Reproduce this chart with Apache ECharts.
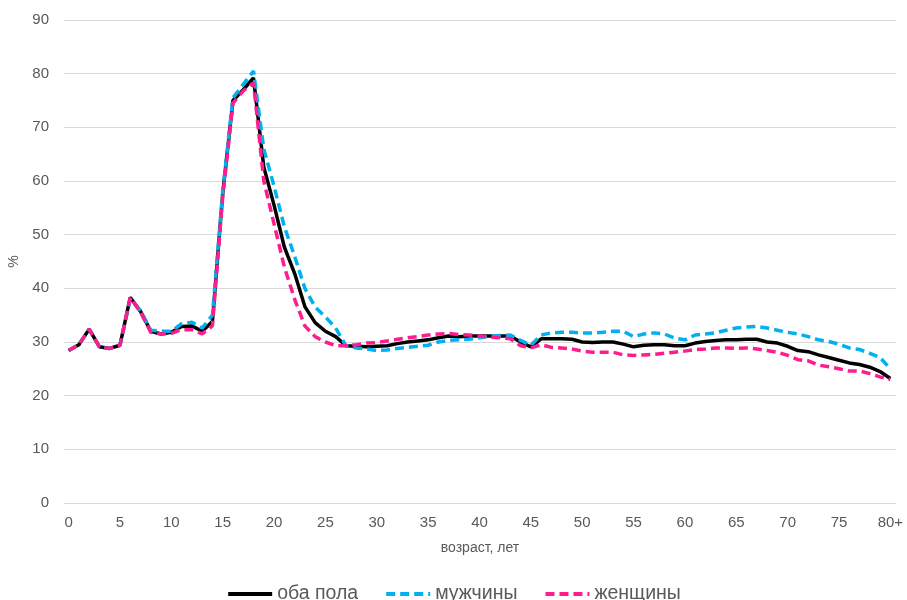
<!DOCTYPE html>
<html>
<head>
<meta charset="utf-8">
<script src="https://cdn.jsdelivr.net/npm/echarts@6/dist/echarts.min.js"></script>
<style>
  html, body { margin: 0; padding: 0; background: #fff; }
  #chart { width: 907px; height: 600px; }
</style>
</head>
<body>
<div id="chart"></div>
<script>
// возраст 0..80 (80 = "80+")
var ages = [];
for (var i = 0; i <= 80; i++) ages.push(i);
var xTicks = [0, 5, 10, 15, 20, 25, 30, 35, 40, 45, 50, 55, 60, 65, 70, 75, 80];

var both = [28.4, 29.5, 32.4, 29.1, 28.8, 29.4, 38.3, 35.7, 32.0, 31.5,
	31.8, 32.9, 33.0, 32.0, 33.8, 57.6, 75.0, 77.0, 79.2, 62.6,
	55.5, 47.7, 42.8, 36.6, 33.6, 32.0, 31.0, 29.3, 29.2, 29.1,
	29.2, 29.3, 29.7, 30.0, 30.2, 30.4, 30.8, 31.1, 31.0, 31.1,
	31.1, 31.1, 31.1, 31.1, 30.0, 29.1, 30.6, 30.6, 30.6, 30.5,
	30.0, 29.9, 30.0, 30.0, 29.6, 29.1, 29.4, 29.5, 29.5, 29.3,
	29.3, 29.8, 30.1, 30.3, 30.4, 30.4, 30.5, 30.5, 30.0, 29.8,
	29.2, 28.4, 28.2, 27.6, 27.1, 26.6, 26.1, 25.8, 25.3, 24.5,
	23.2];
var men = [28.4, 29.5, 32.4, 29.1, 28.8, 29.4, 38.0, 35.9, 32.2, 32.0,
	32.0, 33.4, 33.7, 32.6, 35.0, 58.0, 75.5, 78.0, 80.5, 66.0,
	59.0, 51.5, 46.0, 40.0, 36.5, 34.7, 32.6, 29.3, 28.9, 28.7,
	28.4, 28.5, 28.8, 29.0, 29.2, 29.4, 30.0, 30.3, 30.4, 30.5,
	30.8, 31.1, 31.2, 31.3, 30.3, 29.4, 31.3, 31.7, 31.8, 31.8,
	31.7, 31.7, 31.8, 32.0, 32.0, 31.0, 31.5, 31.7, 31.5, 30.7,
	30.4, 31.3, 31.5, 31.7, 32.2, 32.6, 32.8, 32.9, 32.6, 32.2,
	31.8, 31.5, 31.0, 30.4, 30.1, 29.6, 28.9, 28.6, 27.9, 27.1,
	25.0];
var women = [28.4, 29.5, 32.4, 29.1, 28.8, 29.4, 38.3, 35.6, 31.8, 31.5,
	31.6, 32.3, 32.3, 31.5, 33.0, 57.0, 74.5, 76.8, 78.3, 60.0,
	52.0, 44.0, 38.0, 33.0, 31.0, 30.0, 29.3, 29.3, 29.5, 29.8,
	29.9, 30.2, 30.5, 30.8, 31.0, 31.3, 31.5, 31.6, 31.4, 31.3,
	31.1, 30.9, 30.8, 30.6, 29.3, 28.9, 29.5, 29.0, 28.9, 28.7,
	28.3, 28.1, 28.1, 28.1, 27.6, 27.5, 27.6, 27.7, 27.9, 28.1,
	28.3, 28.6, 28.7, 28.9, 28.9, 28.8, 28.9, 28.7, 28.4, 28.1,
	27.5, 26.7, 26.5, 25.7, 25.4, 25.0, 24.6, 24.6, 24.1, 23.5,
	23.0];

function pairs(vals) {
	return ages.map(function(a, i) { return [a, vals[i]]; });
}

var chart = echarts.init(document.getElementById('chart'));
var font = 'Liberation Sans, Arial, sans-serif';

var option = {
	animation: false,
	textStyle: { fontFamily: font },
	grid: { left: 64, right: 11, top: 20, bottom: 97, outerBoundsMode: 'none', containLabel: false },
	legend: {
		top: 579,
		left: 'center',
		itemGap: 26,
		itemWidth: 44,
		itemHeight: 10,
		itemStyle: { opacity: 0 },
		lineStyle: { width: 4 },
		textStyle: { fontSize: 19.5, color: '#595959', fontFamily: font },
		data: ['оба пола', 'мужчины', 'женщины']
	},
	xAxis: {
		type: 'value',
		min: -0.45,
		max: 80.55,
		name: 'возраст, лет',
		nameLocation: 'middle',
		nameGap: 38,
		nameTextStyle: { fontSize: 14, color: '#595959' },
		axisLine: { show: false },
		axisTick: { show: false },
		splitLine: { show: false },
		axisLabel: {
			customValues: xTicks,
			fontSize: 15,
			color: '#595959',
			margin: 12,
			formatter: function(v) { return v === 80 ? '80+' : String(v); }
		}
	},
	yAxis: {
		type: 'value',
		min: 0,
		max: 90,
		interval: 10,
		name: '%',
		nameLocation: 'middle',
		nameGap: 41,
		nameTextStyle: { fontSize: 14, color: '#595959' },
		axisLine: { show: false },
		axisTick: { show: false },
		axisLabel: { fontSize: 15, color: '#595959', margin: 15 },
		splitLine: { lineStyle: { color: '#d9d9d9', width: 1 } }
	},
	series: [{
		name: 'оба пола',
		type: 'line',
		data: pairs(both),
		symbol: 'none',
		itemStyle: { color: '#000000' },
		lineStyle: { color: '#000000', width: 3.5 }
	}, {
		name: 'мужчины',
		type: 'line',
		data: pairs(men),
		symbol: 'none',
		itemStyle: { color: '#00b0f0' },
		lineStyle: { color: '#00b0f0', width: 3.5, type: [9, 5] }
	}, {
		name: 'женщины',
		type: 'line',
		data: pairs(women),
		symbol: 'none',
		itemStyle: { color: '#ff1d8e' },
		lineStyle: { color: '#ff1d8e', width: 3.5, type: [9, 5] }
	}]
};

chart.setOption(option);
</script>
</body>
</html>
